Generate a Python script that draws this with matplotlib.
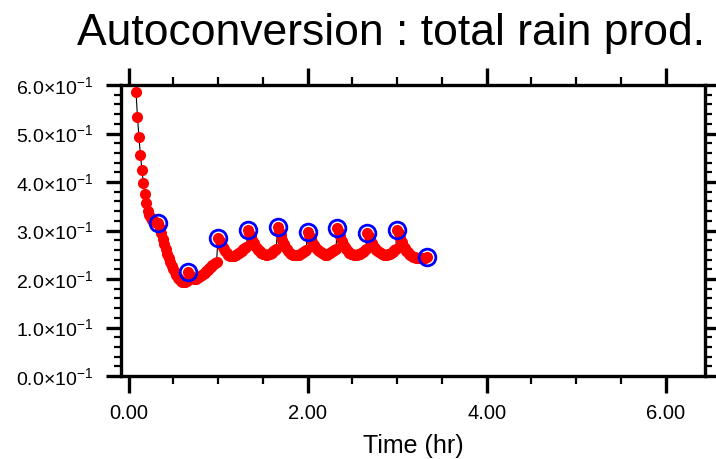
import matplotlib
matplotlib.use("Agg")
import matplotlib.pyplot as plt
from matplotlib.ticker import MultipleLocator

plt.rcParams['font.family'] = ['Liberation Sans', 'DejaVu Sans']
plt.rcParams['mathtext.fontset'] = 'custom'
plt.rcParams['mathtext.rm'] = 'Liberation Sans'

title = "Autoconversion : total rain prod."
xlabel = "Time (hr)"

# one value per model minute, from minute 5 to minute 200
minutes = list(range(5, 201))
rain_prod = [
    # 5 - 20
    0.586, 0.535, 0.492, 0.455, 0.424, 0.397, 0.375, 0.356,
    0.341, 0.331, 0.325, 0.321, 0.319, 0.317, 0.316, 0.316,
    # 21 - 40
    0.305, 0.294, 0.283, 0.272, 0.262, 0.252, 0.243, 0.235, 0.227, 0.220,
    0.214, 0.208, 0.203, 0.199, 0.196, 0.194, 0.193, 0.193, 0.196, 0.214,
    # 41 - 60
    0.208, 0.204, 0.202, 0.201, 0.201, 0.202, 0.204, 0.206, 0.208, 0.211,
    0.213, 0.216, 0.219, 0.222, 0.225, 0.228, 0.231, 0.233, 0.236, 0.285,
    # 61 - 80
    0.279, 0.272, 0.266, 0.261, 0.257, 0.253, 0.250, 0.248, 0.247, 0.247,
    0.247, 0.249, 0.251, 0.253, 0.255, 0.258, 0.261, 0.263, 0.265, 0.301,
    # 81 - 100
    0.295, 0.288, 0.281, 0.274, 0.269, 0.264, 0.260, 0.257, 0.254, 0.252,
    0.251, 0.250, 0.250, 0.251, 0.252, 0.254, 0.257, 0.259, 0.262, 0.308,
    # 101 - 120
    0.300, 0.290, 0.280, 0.273, 0.266, 0.261, 0.257, 0.254, 0.252, 0.250,
    0.249, 0.249, 0.249, 0.250, 0.251, 0.253, 0.255, 0.257, 0.260, 0.297,
    # 121 - 140
    0.291, 0.284, 0.277, 0.271, 0.266, 0.262, 0.259, 0.257, 0.255, 0.253,
    0.251, 0.250, 0.250, 0.251, 0.253, 0.255, 0.257, 0.259, 0.262, 0.305,
    # 141 - 160
    0.297, 0.289, 0.279, 0.272, 0.266, 0.261, 0.257, 0.254, 0.252, 0.251,
    0.250, 0.250, 0.250, 0.251, 0.252, 0.254, 0.256, 0.258, 0.261, 0.295,
    # 161 - 180
    0.289, 0.282, 0.275, 0.269, 0.264, 0.260, 0.257, 0.255, 0.253, 0.251,
    0.250, 0.250, 0.250, 0.251, 0.252, 0.254, 0.256, 0.259, 0.261, 0.301,
    # 181 - 200
    0.294, 0.285, 0.276, 0.269, 0.263, 0.258, 0.255, 0.252, 0.250, 0.248,
    0.246, 0.245, 0.244, 0.243, 0.243, 0.243, 0.243, 0.244, 0.244, 0.245,
]

xticks = [0, 2, 4, 6]
xtick_labels = ["0.00", "2.00", "4.00", "6.00"]
yticks = [0.0, 0.1, 0.2, 0.3, 0.4, 0.5, 0.6]
ytick_mantissa = ["0.0", "1.0", "2.0", "3.0", "4.0", "5.0", "6.0"]

time_hr = [m / 60 for m in minutes]
# output times every 20 minutes are circled
circ_t = [t for m, t in zip(minutes, time_hr) if m % 20 == 0]
circ_v = [v for m, v in zip(minutes, rain_prod) if m % 20 == 0]

fig = plt.figure(figsize=(7.16, 4.59), dpi=100)
ax = fig.add_axes([121 / 716, 1 - 376 / 459, (705 - 121) / 716, (376 - 85) / 459])

ax.plot(time_hr, rain_prod, color="black", lw=0.8, zorder=2)
ax.plot(time_hr, rain_prod, ls="none", marker="o", ms=8, mfc="red",
        mec="red", mew=0, zorder=3)
ax.plot(circ_t, circ_v, ls="none", marker="o", ms=12, mfc="none",
        mec="blue", mew=2, zorder=4)

ax.set_xlim(-0.084, 6.44)
ax.set_ylim(0, 0.6)

ax.set_xticks(xticks)
ax.set_xticklabels(xtick_labels, fontsize=14.5)
ax.xaxis.set_minor_locator(MultipleLocator(0.5))
ax.set_yticks(yticks)
ax.set_yticklabels([r"$\mathregular{%s{\times}10^{-1}}$" % s for s in ytick_mantissa],
                   fontsize=14)
ax.yaxis.set_minor_locator(MultipleLocator(0.02))

ax.tick_params(axis="both", which="both", direction="out", top=True, right=True,
               color="black")
ax.tick_params(axis="x", which="major", length=12, width=2.4, pad=8)
ax.tick_params(axis="x", which="minor", length=6, width=1.6)
ax.tick_params(axis="y", which="major", length=11, width=2.4, pad=9)
ax.tick_params(axis="y", which="minor", length=4.7, width=1.6)
for s in ax.spines.values():
    s.set_linewidth(2.4)

ax.set_xlabel(xlabel, fontsize=18, labelpad=8)
fig.text(391.5 / 716, 1 - 45 / 459, title, fontsize=32, ha="center", va="baseline")

fig.savefig("out.png", dpi=100)
